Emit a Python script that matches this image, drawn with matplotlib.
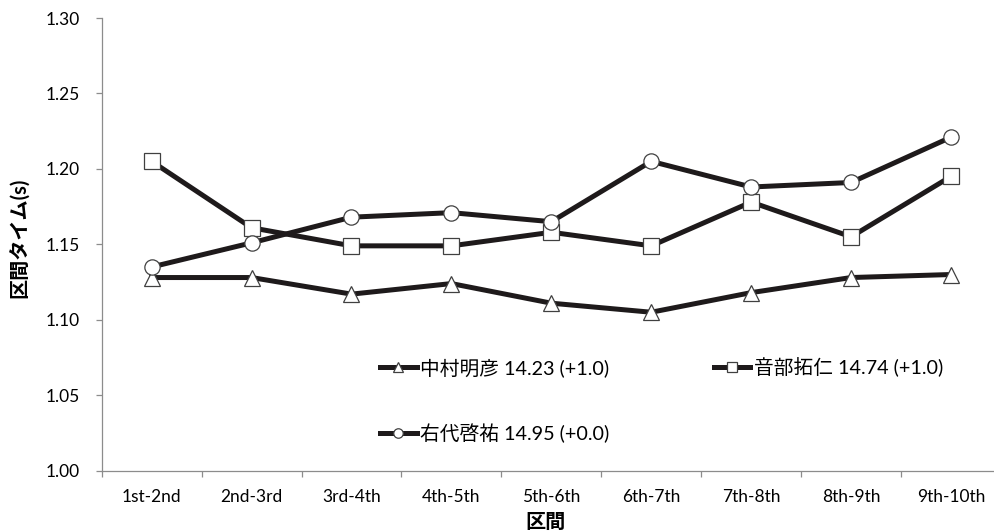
import matplotlib
matplotlib.use("Agg")
import matplotlib.pyplot as plt
from matplotlib.ticker import FixedLocator, FormatStrFormatter

plt.rcParams["font.family"] = ["Lato", "Noto Sans CJK JP", "DejaVu Sans"]

# section labels and split times (s)
sections = ["1st-2nd", "2nd-3rd", "3rd-4th", "4th-5th", "5th-6th",
            "6th-7th", "7th-8th", "8th-9th", "9th-10th"]
nakamura = [1.128, 1.128, 1.117, 1.124, 1.111, 1.105, 1.118, 1.128, 1.130]
onbe = [1.205, 1.161, 1.149, 1.149, 1.158, 1.149, 1.178, 1.155, 1.195]
ushiro = [1.135, 1.151, 1.168, 1.171, 1.165, 1.205, 1.188, 1.191, 1.221]
names = ["中村明彦 14.23 (+1.0)", "音部拓仁 14.74 (+1.0)", "右代啓祐 14.95 (+0.0)"]
yticks = [1.00, 1.05, 1.10, 1.15, 1.20, 1.25, 1.30]

LINE = "#1e1a1b"
EDGE = "#404040"
SPINE = "#8c8c8c"

fig = plt.figure(figsize=(9.95, 5.31), dpi=100)
ax = fig.add_axes([0.1022, 0.1136, 0.9038, 0.8525])

xs = list(range(len(sections)))
common = dict(color=LINE, lw=3.6, mfc="white", mec=EDGE, mew=0.9)
h1, = ax.plot(xs, nakamura, marker="^", ms=12, label=names[0], **common)
h2, = ax.plot(xs, onbe, marker="s", ms=11, label=names[1], **common)
h3, = ax.plot(xs, ushiro, marker="o", ms=11, label=names[2], **common)

ax.set_xlim(-0.5, len(sections) - 0.5)
ax.set_ylim(1.00, 1.30)

ax.set_xticks(xs)
ax.set_xticklabels(sections)
ax.xaxis.set_minor_locator(FixedLocator([i - 0.5 for i in range(len(sections) + 1)]))
ax.tick_params(axis="x", which="major", length=0, pad=13, labelsize=12.5)
ax.tick_params(axis="x", which="minor", length=4, width=0.9, color=SPINE)

ax.yaxis.set_major_locator(FixedLocator(yticks))
ax.yaxis.set_major_formatter(FormatStrFormatter("%.2f"))
ax.tick_params(axis="y", length=4, width=0.9, color=SPINE, pad=12, labelsize=12.5)

for side in ("top", "right"):
    ax.spines[side].set_visible(False)
for side in ("left", "bottom"):
    ax.spines[side].set_color(SPINE)
    ax.spines[side].set_linewidth(0.9)

ax.set_ylabel("区間タイム(s)", fontsize=14.5, fontweight="bold")
ax.yaxis.set_label_coords(-0.0909, 0.515)
ax.yaxis.label.set_va("center")
ax.set_xlabel("区間", fontsize=14.5, fontweight="bold")
ax.xaxis.set_label_coords(0.493, -0.113)
ax.xaxis.label.set_va("center")

leg = ax.legend(handles=[h1, h3, h2], ncol=2, frameon=False,
                loc="upper left", bbox_to_anchor=(0.3095, 0.25),
                borderpad=0, borderaxespad=0, handlelength=1.85,
                handletextpad=0.18, columnspacing=5.3, labelspacing=2.35,
                markerscale=0.62, fontsize=14.2)

fig.savefig("out.png", dpi=100)
